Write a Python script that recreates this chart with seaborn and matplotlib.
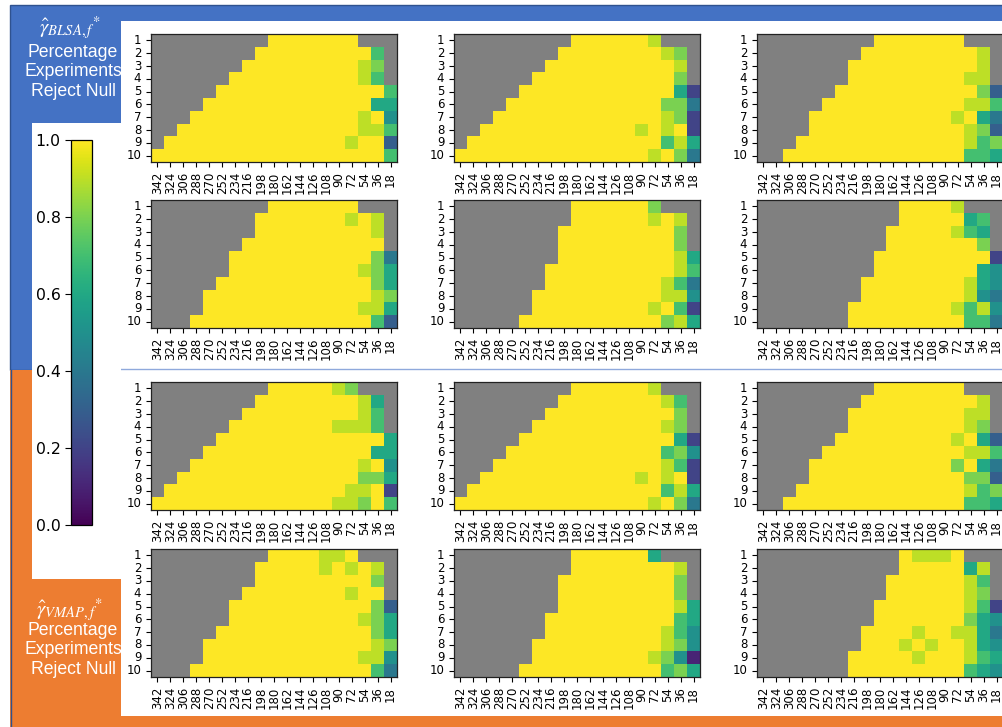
import numpy as np
import pandas as pd
import matplotlib
matplotlib.use("Agg")
import matplotlib.pyplot as plt
from matplotlib.patches import Rectangle
from matplotlib.lines import Line2D
import seaborn as sns

# ---------------- data ----------------
x_labels = [342, 324, 306, 288, 270, 252, 234, 216, 198, 180, 162, 144, 126, 108, 90, 72, 54, 36, 18]
y_labels = [1, 2, 3, 4, 5, 6, 7, 8, 9, 10]
# cell code: '-' = not computed (grey), 'T' = 1.0, digit d = d/10

P11 = ["---------TTTTTTT---",
       "--------TTTTTTTTT7-",
       "-------TTTTTTTTT98-",
       "------TTTTTTTTTT97-",
       "-----TTTTTTTTTTTTT7",
       "----TTTTTTTTTTTTT66",
       "---TTTTTTTTTTTTT9T5",
       "--TTTTTTTTTTTTTT997",
       "-TTTTTTTTTTTTTT9TT3",
       "TTTTTTTTTTTTTTTTTT7"]
P12 = ["---------TTTTTT9---",
       "--------TTTTTTTT98-",
       "-------TTTTTTTTTT9-",
       "------TTTTTTTTTTT8-",
       "-----TTTTTTTTTTTT62",
       "----TTTTTTTTTTTT884",
       "---TTTTTTTTTTTTT982",
       "--TTTTTTTTTTTT9T9T2",
       "-TTTTTTTTTTTTTTT796",
       "TTTTTTTTTTTTTTT9T84"]
P13 = ["---------TTTTTTT---",
       "--------TTTTTTTTT9-",
       "-------TTTTTTTTTT9-",
       "-------TTTTTTTTT99-",
       "------TTTTTTTTTTT83",
       "-----TTTTTTTTTTT997",
       "----TTTTTTTTTTT9T64",
       "----TTTTTTTTTTTT983",
       "---TTTTTTTTTTTTT978",
       "--TTTTTTTTTTTTTT776"]
P21 = ["---------TTTTTTT---",
       "--------TTTTTTT9T9-",
       "--------TTTTTTTTT9-",
       "-------TTTTTTTTTTT-",
       "------TTTTTTTTTTT84",
       "------TTTTTTTTTT986",
       "-----TTTTTTTTTTTT86",
       "----TTTTTTTTTTTTT98",
       "----TTTTTTTTTTTT996",
       "---TTTTTTTTTTTTTT73"]
P22 = ["---------TTTTTT8---",
       "---------TTTTTT9T9-",
       "--------TTTTTTTTT8-",
       "--------TTTTTTTTT8-",
       "--------TTTTTTTTT96",
       "-------TTTTTTTTTT97",
       "-------TTTTTTTTT974",
       "------TTTTTTTTTT995",
       "------TTTTTTTTT9T72",
       "-----TTTTTTTTTTT896"]
P23 = ["-----------TTTT9---",
       "-----------TTTTT67-",
       "----------TTTTT976-",
       "----------TTTTTTT8-",
       "---------TTTTTTTTT2",
       "---------TTTTTTTT65",
       "--------TTTTTTTT965",
       "--------TTTTTTTT954",
       "-------TTTTTTTT9795",
       "-------TTTTTTTTT774"]
P31 = ["---------TTTTT98---",
       "--------TTTTTTTT96-",
       "-------TTTTTTTTT97-",
       "------TTTTTTTT9997-",
       "-----TTTTTTTTTTTTT6",
       "----TTTTTTTTTTTTT66",
       "---TTTTTTTTTTTTT9T5",
       "--TTTTTTTTTTTTTT886",
       "-TTTTTTTTTTTTTT99T2",
       "TTTTTTTTTTTTTT998T7"]
P32 = ["---------TTTTTT9---",
       "--------TTTTTTTT97-",
       "-------TTTTTTTTTT8-",
       "------TTTTTTTTTT98-",
       "-----TTTTTTTTTTTT62",
       "----TTTTTTTTTTTT785",
       "---TTTTTTTTTTTTT972",
       "--TTTTTTTTTTTT9T9T2",
       "-TTTTTTTTTTTTTTT796",
       "TTTTTTTTTTTTTTT9T84"]
P33 = ["---------TTTTTTT---",
       "--------TTTTTTTTT9-",
       "-------TTTTTTTTT99-",
       "-------TTTTTTTTT98-",
       "------TTTTTTTTT9T63",
       "-----TTTTTTTTTTT997",
       "----TTTTTTTTTTT8T64",
       "----TTTTTTTTTTTT883",
       "---TTTTTTTTTTTTT978",
       "--TTTTTTTTTTTTTT776"]
P41 = ["---------TTTT99T---",
       "--------TTTTT9T9T9-",
       "--------TTTTTTTTT8-",
       "-------TTTTTTTT9TT-",
       "------TTTTTTTTTTT83",
       "------TTTTTTTTTT986",
       "-----TTTTTTTTTTTT86",
       "----TTTTTTTTTTTTT98",
       "----TTTTTTTTTTTT995",
       "---TTTTTTTTTTTTTT74"]
P42 = ["---------TTTTTT6---",
       "---------TTTTTTTT9-",
       "--------TTTTTTTTT8-",
       "--------TTTTTTTTT8-",
       "--------TTTTTTTTT96",
       "-------TTTTTTTTTT76",
       "-------TTTTTTTTT975",
       "------TTTTTTTTTT985",
       "------TTTTTTTTT9851",
       "-----TTTTTTTTTTT786"]
P43 = ["-----------T999T---",
       "-----------TTTTT69-",
       "----------TTTTTT97-",
       "----------TTTTTT98-",
       "---------TTTTTTT972",
       "---------TTTTTTT865",
       "--------TTTT9TT9964",
       "--------TTT9T9TT965",
       "-------TTTTT9TTT976",
       "-------TTTTTTTTT765"]

panels = [[P11, P12, P13], [P21, P22, P23], [P31, P32, P33], [P41, P42, P43]]


def decode(rows):
    vals = []
    for r in rows:
        line = []
        for ch in r:
            if ch == "-":
                line.append(np.nan)
            elif ch == "T":
                line.append(1.0)
            else:
                line.append(int(ch) / 10.0)
        vals.append(line)
    return pd.DataFrame(vals, index=y_labels, columns=x_labels)


# ---------------- figure ----------------
W, H = 1002, 727
fig = plt.figure(figsize=(W / 100, H / 100), dpi=100)
fig.patch.set_facecolor("white")

BLUE = "#4472C4"
ORANGE = "#ED7D31"


def frac_rect(x0, y0, x1, y1):
    return [x0 / W, 1 - y1 / H, (x1 - x0) / W, (y1 - y0) / H]


def add_box(x0, y0, x1, y1, color, z, ec="none", lw=0):
    l, b, w, h = frac_rect(x0, y0, x1, y1)
    fig.patches.append(Rectangle((l, b), w, h, transform=fig.transFigure,
                                 facecolor=color, edgecolor=ec, linewidth=lw, zorder=z))


add_box(10, 5, 1010, 370, BLUE, 0, ec="#2F528F", lw=1)
add_box(10, 370, 1010, 735, ORANGE, 0)
fig.lines.append(Line2D([10.5 / W, 10.5 / W], [1 - 370 / H, 0], transform=fig.transFigure,
                        color="#2F528F", lw=1, zorder=1))
add_box(121, 21, 1010, 716, "white", 1)
add_box(32, 123, 121, 579, "white", 2)
fig.lines.append(Line2D([121 / W, 1], [1 - 368.5 / H, 1 - 368.5 / H], transform=fig.transFigure,
                        color="#8FA9DC", lw=1, zorder=2))

# left labels
txt_kw = dict(color="white", ha="center", va="center", zorder=5)
fig.text(70 / W, 1 - 28 / H, r"$\hat{\gamma}_{BLSA,f}{}^{*}$", fontsize=15,
         math_fontfamily="stix", **txt_kw)
fig.text(73 / W, 1 - 72 / H, "Percentage\nExperiments\nReject Null", fontsize=12.7,
         family="Liberation Sans", linespacing=1.17, **txt_kw)
fig.text(70 / W, 1 - 610 / H, r"$\hat{\gamma}_{VMAP,f}{}^{*}$", fontsize=15,
         math_fontfamily="stix", **txt_kw)
fig.text(73 / W, 1 - 650 / H, "Percentage\nExperiments\nReject Null", fontsize=12.7,
         family="Liberation Sans", linespacing=1.17, **txt_kw)

# heatmaps
col_left = [151, 454, 757]
row_top = [34, 200, 382, 549]
AW, AH = 246, 128
cmap = plt.get_cmap("viridis")

for i, prow in enumerate(panels):
    for j, pdata in enumerate(prow):
        ax = fig.add_axes(frac_rect(col_left[j], row_top[i], col_left[j] + AW, row_top[i] + AH))
        ax.set_zorder(3)
        df = decode(pdata)
        sns.heatmap(df, ax=ax, cmap=cmap, vmin=0, vmax=1, cbar=False,
                    xticklabels=x_labels, yticklabels=y_labels)
        ax.set_facecolor("#808080")
        for s in ax.spines.values():
            s.set_visible(True)
            s.set_linewidth(0.9)
            s.set_color("#222222")
        ax.tick_params(axis="both", labelsize=8.5, length=3.5, width=0.8, colors="black")
        plt.setp(ax.get_xticklabels(), rotation=90)
        plt.setp(ax.get_yticklabels(), rotation=0)
        ax.set_xlabel("")
        ax.set_ylabel("")

# colorbar
cax = fig.add_axes(frac_rect(71, 140, 92, 525))
cax.set_zorder(4)
sm = matplotlib.cm.ScalarMappable(cmap=cmap, norm=matplotlib.colors.Normalize(0, 1))
cb = fig.colorbar(sm, cax=cax)
cb.set_ticks([0.0, 0.2, 0.4, 0.6, 0.8, 1.0])
cax.yaxis.set_ticks_position("left")
cax.yaxis.set_label_position("left")
cax.tick_params(labelsize=11.3, length=4, width=0.8)
cb.outline.set_linewidth(0.9)

fig.savefig("out.png", dpi=100)
